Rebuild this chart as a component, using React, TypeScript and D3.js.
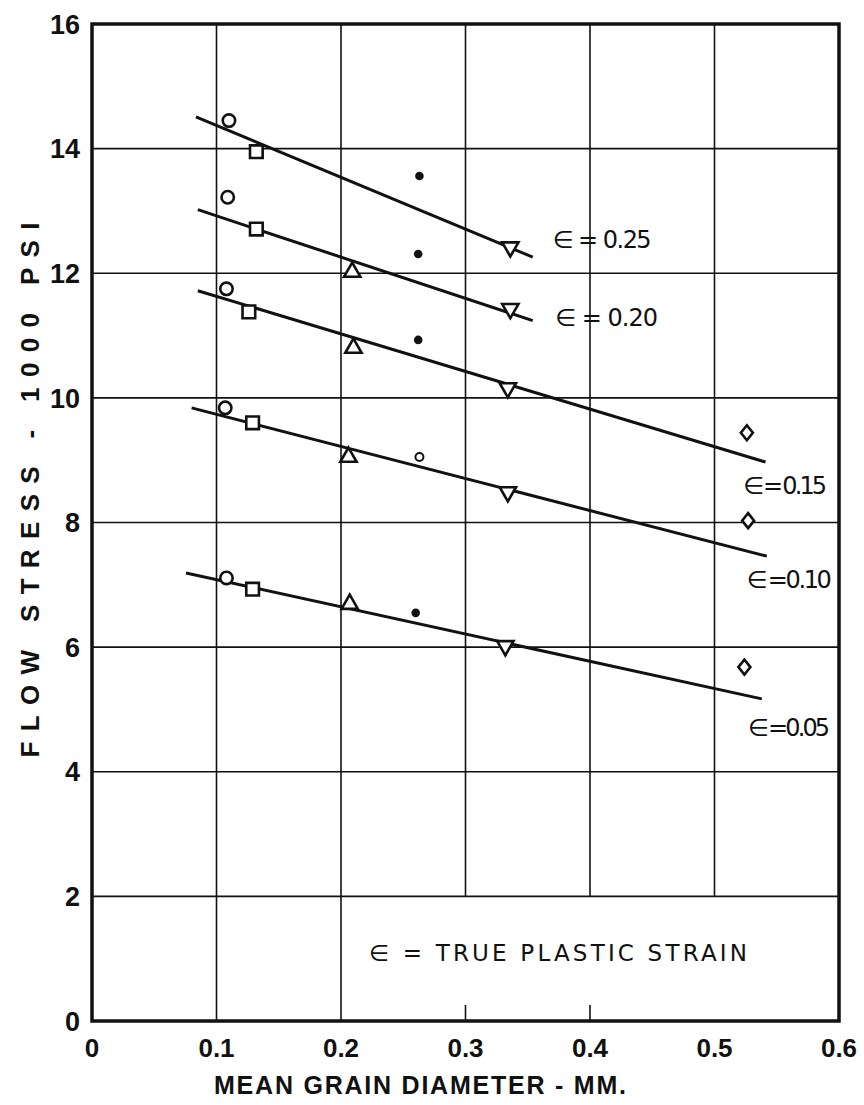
import React from "react";
import * as d3 from "d3";

// ---- data ----
const xTicks = [0, 0.1, 0.2, 0.3, 0.4, 0.5, 0.6];
const xTickLabels = ["0", "0.1", "0.2", "0.3", "0.4", "0.5", "0.6"];
const yTicks = [0, 2, 4, 6, 8, 10, 12, 14, 16];
const yTickLabels = ["0", "2", "4", "6", "8", "10", "12", "14", "16"];

const strains = ["0.25", "0.20", "0.15", "0.10", "0.05"];
// fitted line endpoints [x1, y1, x2, y2] per strain
const fitLines: [number, number, number, number][] = [
  [0.0835, 14.51, 0.354, 12.26],
  [0.085, 13.02, 0.354, 11.24],
  [0.085, 11.72, 0.541, 8.97],
  [0.08, 9.84, 0.542, 7.46],
  [0.0755, 7.19, 0.538, 5.17],
];
// labels [x, y] in data units (left edge, vertical centre)
const strainLabelPos: [number, number][] = [
  [0.37, 12.55],
  [0.372, 11.3],
  [0.523, 8.6],
  [0.526, 7.08],
  [0.527, 4.72],
];
const strainLabelWidth = [99, 103, 84, 85, 82];
const strainLabelSep = [" = ", " = ", "\u2009=\u2009", "\u2009=", "\u2009="];

const circles: [number, number][] = [
  [0.11, 14.45], [0.109, 13.22], [0.108, 11.75], [0.107, 9.84], [0.108, 7.11],
];
const squares: [number, number][] = [
  [0.132, 13.95], [0.132, 12.71], [0.126, 11.38], [0.129, 9.6], [0.129, 6.93],
];
const upTriangles: [number, number][] = [
  [0.209, 12.02], [0.21, 10.8], [0.206, 9.05], [0.207, 6.69],
];
const filledDots: [number, number][] = [
  [0.263, 13.56], [0.262, 12.31], [0.262, 10.93], [0.26, 6.55],
];
const smallCircles: [number, number][] = [[0.263, 9.05]];
const downTriangles: [number, number][] = [
  [0.336, 12.42], [0.336, 11.43], [0.334, 10.16], [0.334, 8.49], [0.332, 6.02],
];
const diamonds: [number, number][] = [
  [0.526, 9.44], [0.527, 8.03], [0.524, 5.68],
];

const W = 864, H = 1105;
const M = { left: 92, right: 25, top: 24, bottom: 84 };

export default function App() {
  const x = d3.scaleLinear().domain([0, 0.6]).range([M.left, W - M.right]);
  const y = d3.scaleLinear().domain([0, 16]).range([H - M.bottom, M.top]);
  const ink = "#111";
  const tri = d3.symbol().type(d3.symbolTriangle).size(115)() as string;
  const sq = d3.symbol().type(d3.symbolSquare).size(160)() as string;
  const diamond = "M0,-7.5L6,0L0,7.5L-6,0Z";

  const vGrid = [0.1, 0.2, 0.3, 0.4, 0.5];
  const hGrid = [2, 4, 6, 8, 10, 12, 14];

  return (
    <svg width={W} height={H} style={{ position: "absolute", left: 0, top: 0, background: "#fff" }}
      fontFamily="'Liberation Sans', Arial, sans-serif">
      <rect x={0} y={0} width={W} height={H} fill="#fff" />
      {/* grid */}
      {vGrid.map((v) => (
        <line key={"v" + v} x1={x(v)} x2={x(v)} y1={y(16)}
          y2={v > 0.25 ? y(2) : y(0)} stroke={ink} strokeWidth={1.6} />
      ))}
      {[0.3, 0.4].map((v) => (
        <line key={"t" + v} x1={x(v)} x2={x(v)} y1={y(0)} y2={y(0) - 16} stroke={ink} strokeWidth={1.6} />
      ))}
      {hGrid.map((v) => (
        <line key={"h" + v} x1={x(0)} x2={x(0.6)} y1={y(v)} y2={y(v)} stroke={ink} strokeWidth={1.6} />
      ))}
      {/* frame */}
      <rect x={x(0)} y={y(16)} width={x(0.6) - x(0)} height={y(0) - y(16)} fill="none" stroke={ink} strokeWidth={3.5} />

      {/* fitted lines */}
      {fitLines.map((l, i) => (
        <line key={"f" + i} x1={x(l[0])} y1={y(l[1])} x2={x(l[2])} y2={y(l[3])} stroke={ink} strokeWidth={3} />
      ))}

      {/* markers */}
      {circles.map((p, i) => (
        <circle key={"c" + i} cx={x(p[0])} cy={y(p[1])} r={6.2} fill="#fff" stroke={ink} strokeWidth={2.6} />
      ))}
      {squares.map((p, i) => (
        <path key={"s" + i} d={sq} transform={`translate(${x(p[0])},${y(p[1])})`} fill="#fff" stroke={ink} strokeWidth={2.6} />
      ))}
      {upTriangles.map((p, i) => (
        <path key={"u" + i} d={tri} transform={`translate(${x(p[0])},${y(p[1])})`} fill="#fff" stroke={ink} strokeWidth={2.6} />
      ))}
      {downTriangles.map((p, i) => (
        <path key={"d" + i} d={tri} transform={`translate(${x(p[0])},${y(p[1])}) rotate(180)`} fill="#fff" stroke={ink} strokeWidth={2.6} />
      ))}
      {filledDots.map((p, i) => (
        <circle key={"fd" + i} cx={x(p[0])} cy={y(p[1])} r={4.3} fill={ink} />
      ))}
      {smallCircles.map((p, i) => (
        <circle key={"sc" + i} cx={x(p[0])} cy={y(p[1])} r={4} fill="#fff" stroke={ink} strokeWidth={2} />
      ))}
      {diamonds.map((p, i) => (
        <path key={"di" + i} d={diamond} transform={`translate(${x(p[0])},${y(p[1])})`} fill="#fff" stroke={ink} strokeWidth={2.6} />
      ))}

      {/* strain labels */}
      {strains.map((s, i) => (
        <text key={"l" + i} x={x(strainLabelPos[i][0])} y={y(strainLabelPos[i][1])} dy="0.36em"
          fontFamily="'DejaVu Sans', sans-serif" fontSize={24} fill={ink}
          textLength={strainLabelWidth[i]} lengthAdjust="spacing">
          {`∈${strainLabelSep[i]}${s}`}
        </text>
      ))}

      {/* legend text */}
      <text x={369} y={y(1.1)} dy="0.36em" fontFamily="'DejaVu Sans', sans-serif" fontSize={23}
        textLength={378} lengthAdjust="spacing" fill={ink}>∈ = TRUE PLASTIC STRAIN</text>

      {/* y ticks */}
      {yTicks.map((v, i) => (
        <text key={"yt" + v} x={x(0) - 12} y={y(v)} dy="0.36em" textAnchor="end"
          fontWeight="bold" fontSize={27} fill={ink}>{yTickLabels[i]}</text>
      ))}
      {/* x ticks */}
      {xTicks.map((v, i) => (
        <text key={"xt" + v} x={x(v)} y={y(0) + 27} dy="0.36em" textAnchor="middle"
          fontWeight="bold" fontSize={26} fill={ink}>{xTickLabels[i]}</text>
      ))}

      {/* axis titles */}
      <text x={420} y={1085} dy="0.36em" textAnchor="middle" fontWeight="bold" fontSize={25}
        textLength={412} lengthAdjust="spacing" fill={ink}>MEAN GRAIN DIAMETER - MM.</text>
      <text transform={`translate(30,490) rotate(-90)`} dy="0.36em" textAnchor="middle" fontWeight="bold" fontSize={26}
        textLength={535} lengthAdjust="spacing" fill={ink}>FLOW STRESS - 1000 PSI</text>
    </svg>
  );
}
